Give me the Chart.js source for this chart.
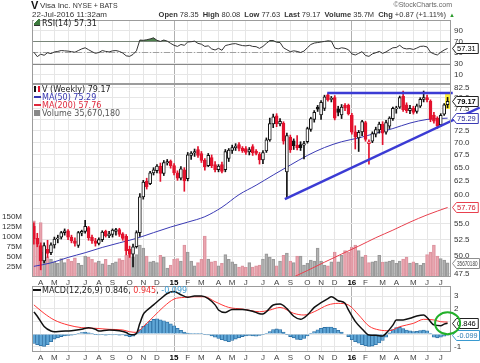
<!DOCTYPE html>
<html><head><meta charset="utf-8">
<script src="https://cdn.jsdelivr.net/npm/chart.js@4.4.1/dist/chart.umd.min.js"></script>
<style>
html,body{margin:0;padding:0;background:#fff;}
#wrap{position:relative;width:480px;height:363px;overflow:hidden;font-family:"Liberation Sans",Arial,sans-serif;background:#fff;}
canvas{position:absolute;left:0;top:0;}
.t{position:absolute;white-space:nowrap;line-height:1;color:#222;}
.t b{margin-left:2px;}
.lg{position:absolute;white-space:nowrap;line-height:1;font-family:"DejaVu Sans",Verdana,sans-serif;font-size:8px;color:#222;}
.dash{display:inline-block;width:7px;height:2px;vertical-align:middle;margin-right:1px;position:relative;top:-1px;}
.ico{display:inline-block;width:6px;height:6px;vertical-align:middle;margin-right:2px;position:relative;top:-1px;}
</style></head><body>
<div id="wrap">
<canvas id="cMain" width="480" height="363"></canvas>
<canvas id="cRsi" width="480" height="363"></canvas>
<canvas id="cMacd" width="480" height="363"></canvas>

<div class="t" style="left:31px;top:0px;font-weight:bold;font-size:11px;color:#111">V</div>
<div class="t" style="left:40px;top:2px;font-size:8px;color:#333">Visa Inc. <span style="font-size:7px">NYSE + BATS</span></div>
<div class="t" style="right:28px;top:1px;font-size:7px;color:#666">&copy;StockCharts.com</div>
<div class="t" style="left:32px;top:11px;font-size:8px;color:#333">22-Jul-2016 11:32am</div>
<div class="t" style="right:34px;top:11px;font-size:7.5px;color:#333"><b>Open</b> 78.35 <b>High</b> 80.08 <b>Low</b> 77.63 <b>Last</b> 79.17 <b>Volume</b> 35.7M <b>Chg</b> +0.87 (+1.11%)</div>
<div class="t" style="left:449px;top:12px;font-size:6px;color:#2a9a2a">&#9650;</div>

<div class="lg" style="left:34px;top:20px"><span class="ico" style="background:linear-gradient(135deg,#fff 40%,#3d7a3d 41%);border-bottom:1px solid #333"></span>RSI(14) 57.31</div>

<div class="lg" style="left:34px;top:86px"><span class="ico" style="border-left:2px solid #111;border-right:2px solid #e3122d;width:2px;height:6px"></span>V (Weekly) 79.17</div>
<div class="lg" style="left:34px;top:94px;color:#3535b0"><span class="dash" style="background:#3535b0"></span>MA(50) 75.29</div>
<div class="lg" style="left:34px;top:102px;color:#e0283c"><span class="dash" style="background:#e0283c"></span>MA(200) 57.76</div>
<div class="lg" style="left:34px;top:110px;color:#555"><span class="ico" style="border-bottom:6px solid #888;height:0;width:6px"></span>Volume 35,670,180</div>

<div class="lg" style="left:33px;top:287px"><span class="dash" style="background:#111;width:8px"></span>MACD(12,26,9) 0.846, <span style="color:#f03030">0.945</span>, <span style="color:#3a9ad0">-0.099</span></div>
</div>

<script>
// ---------------- data ----------------
const monthTickWeek  = [2,6,10,15,19,23,28,32,36,41,45,49,54,58,62,67,71,75,80,84,88,93,97,102,106,111,115,119];
const monthTickLabel = ['A','M','J','J','A','S','O','N','D','15','F','M','A','M','J','J','A','S','O','N','D','16','F','M','A','M','J','J'];

const opens = [
54.6,52.7,51.6,49.3,51.0,50.5,51.7,52.6,52.9,53.6,
53.9,52.9,52.3,51.6,53.5,53.8,54.4,52.9,52.3,51.9,
52.5,53.8,53.1,53.3,53.8,54.1,53.4,53.0,51.0,50.3,
51.4,53.6,59.6,62.4,62.0,64.0,64.4,65.3,63.9,65.9,
66.3,65.4,64.0,63.0,64.6,62.9,67.4,67.9,68.6,67.8,
66.5,65.4,67.0,65.6,64.6,65.6,64.6,66.8,68.4,69.0,
69.6,68.9,68.8,68.1,69.2,68.3,67.6,66.5,68.3,70.6,
74.0,75.8,74.0,74.2,64.2,71.2,70.4,69.5,69.6,69.5,
70.2,72.8,75.0,77.8,76.0,77.5,80.7,79.6,80.0,77.4,
76.0,78.2,78.2,76.0,72.3,71.0,72.3,74.3,69.8,70.3,
71.8,72.7,74.0,72.2,73.5,75.2,77.4,77.8,80.4,78.3,
77.0,77.6,76.8,78.0,79.6,80.0,79.2,76.0,75.3,73.8,
76.2,78.35];
const highs = [
55.2,53.5,52.0,52.0,52.4,52.0,52.9,53.2,53.8,54.2,
54.1,53.2,52.8,53.8,54.0,55.6,54.6,53.2,52.7,52.8,
53.9,54.0,53.8,54.2,54.3,54.3,53.6,53.3,51.5,51.8,
53.9,60.2,62.6,63.0,64.3,65.0,65.6,65.9,66.4,66.6,
66.5,65.8,64.4,65.2,65.0,68.0,68.2,68.7,69.2,68.2,
66.8,67.8,67.5,66.2,65.6,66.1,68.6,68.8,69.5,69.8,
70.0,69.2,69.2,69.0,69.6,68.6,68.0,68.4,71.0,75.3,
76.2,76.3,75.2,74.5,72.0,71.6,70.8,71.5,70.2,70.3,
73.3,75.5,77.0,78.2,79.3,80.6,81.0,80.3,80.5,78.0,
78.4,78.6,78.5,76.4,73.6,72.6,74.8,74.6,70.6,72.3,
73.3,74.4,74.5,74.8,75.6,77.8,78.0,80.4,81.6,78.8,
78.2,78.0,78.5,80.0,81.6,80.6,79.5,76.6,75.6,76.3,
78.6,80.08];
const lows = [
51.8,51.4,48.0,49.0,49.8,50.2,51.2,52.0,52.6,53.2,
52.5,52.0,51.5,51.3,53.1,53.5,52.4,51.9,51.5,51.7,
52.2,52.9,52.8,52.9,53.2,53.0,52.4,50.2,49.8,48.4,
51.2,53.0,59.2,61.0,61.8,63.6,64.0,62.4,63.5,65.5,
64.9,63.6,62.6,62.7,60.6,62.5,66.6,67.2,67.0,66.0,
64.5,65.2,65.0,64.2,64.2,64.0,64.2,66.2,67.8,68.4,
68.3,68.0,67.6,67.5,67.4,67.5,65.7,65.8,68.0,70.3,
73.2,73.4,73.6,69.7,59.3,68.0,68.6,68.5,68.4,66.7,
69.9,72.4,74.4,76.8,75.0,77.0,79.2,79.0,74.9,75.8,
75.2,77.0,76.0,71.8,68.7,68.2,71.5,70.3,65.7,70.0,
71.2,72.0,69.6,71.8,73.0,74.8,76.4,77.5,76.8,76.5,
76.3,76.2,76.4,77.7,79.0,79.0,74.5,74.2,73.0,73.5,
75.9,77.63];
const closes = [
52.6,51.8,49.3,51.6,50.4,51.7,52.6,52.8,53.6,53.9,
52.9,52.3,51.9,53.6,53.8,54.6,52.8,52.3,51.9,52.5,
53.7,53.1,53.4,54.0,54.1,53.3,52.7,50.8,50.3,51.4,
53.6,59.6,62.3,61.4,64.0,64.6,65.3,63.9,66.0,66.2,
65.4,64.0,63.0,64.8,62.5,67.5,67.9,68.2,67.4,66.4,
65.2,67.4,65.4,64.6,65.3,64.3,68.2,68.5,69.0,69.3,
68.8,68.3,68.0,68.6,67.9,67.8,66.5,68.0,70.6,74.1,
75.6,74.0,74.6,70.3,71.5,68.5,69.4,69.0,69.0,69.8,
73.0,75.2,76.6,77.3,78.9,80.2,79.5,79.8,75.3,76.6,
77.8,77.6,76.3,72.2,71.2,72.2,74.5,70.7,70.2,71.9,
72.8,74.0,72.0,74.3,75.3,77.5,77.6,80.0,77.2,77.0,
77.5,76.6,78.1,79.6,80.0,79.5,75.0,74.6,73.6,75.9,
78.3,79.17];
const volumeM = [
140,82,136,62,50,45,38,34,46,36,
44,40,48,34,30,52,50,44,36,40,
33,44,30,34,38,46,42,55,58,50,
56,80,72,52,38,40,36,54,50,22,
30,44,46,40,80,62,40,28,36,44,
102,45,38,40,28,34,56,44,38,32,
25,28,24,36,25,28,30,45,58,50,
44,28,40,54,60,40,36,52,52,30,
34,42,40,72,40,30,28,38,62,38,
54,66,62,75,80,66,50,54,36,38,
40,54,37,38,40,42,34,40,45,50,
35,38,34,30,34,56,62,80,52,46,
42,35.67018];
const lastVolumeText = '35670180';

const ma50Week  = [0,5,10,15,20,25,30,35,40,45,50,55,60,65,70,75,80,85,90,95,100,105,110,115,121];
const ma50Value = [48.5,49.0,49.8,50.5,51.3,52.0,52.7,53.6,54.5,55.3,56.2,57.8,60.0,61.7,63.6,65.5,67.4,69.0,70.2,71.0,72.0,73.0,74.2,75.0,75.29];
const ma200Week  = [76,80,85,90,95,100,105,110,115,121];
const ma200Value = [47.0,47.9,49.1,50.3,51.5,52.8,54.0,55.3,56.5,57.76];

const resistanceWeek  = [85.8,122.5];
const resistanceValue = [81.1,81.1];
const supportWeek  = [73.4,130.4];
const supportValue = [59.2,77.7];

const rsiValues = [
50.5,42.5,47,45,49.5,48,51,52,53.5,53,
52.5,51.5,50.5,53.5,56.5,58.5,55,51.5,48.5,50,
53.5,52,51,53,53.5,52,49,44,43,46.5,
53,72.5,72,73,74.5,76.5,72,70,72.5,70.5,
66.5,63,61,64.5,63,69,69.5,70.5,66.5,65,
61,62,56.5,54.5,57.5,54,62.5,64,65.5,66,
64,62.5,62,63,61,60.5,57.5,61,66.5,71.5,
71.5,68.5,68,58.5,55,51.5,53,52,50,52.5,
58.5,64.5,67,68,69,70,71,70.5,58,56.5,
58.5,57.5,55,47.5,45.5,48.5,51.5,44.5,43,47.5,
49.5,52,48.5,51,55,58.5,59,63,58,56.5,
57,55.5,58,61,61.5,60,50.5,47.5,45.5,50.5,
54.5,57.31];

const macdWeek  = [0,1,3,5,6,8,11,14,16,18,19,22,25,27,28,29,30,31,32,33,35,37,39,41,43,45,47,49,51,53,54,56,58,61,64,66,67,68,70,72,74,76,78,80,82,84,86,87,89,91,92,94,96,98,100,102,103,105,106,108,110,112,114,115,117,119,120,121];
const macdValue = [1.75,1.4,0.6,0.24,0.18,0.22,0.26,0.37,0.5,0.38,0.24,0.32,0.26,0.12,-0.03,-0.05,0.05,0.84,1.55,1.85,2.3,2.76,3.2,3.35,3.1,2.9,3.0,3.0,2.8,2.3,1.9,1.7,1.94,1.94,1.8,1.6,1.58,1.76,2.29,2.37,2.0,1.4,1.16,1.5,2.1,2.47,2.8,2.95,2.63,2.42,1.9,1.0,0.4,-0.08,-0.1,-0.16,0.05,0.7,1.1,1.11,1.24,1.42,1.5,1.3,0.72,0.66,0.78,0.846];
const signalWeek  = [0,3,6,10,14,18,22,26,28,30,32,35,38,41,44,47,50,53,57,61,66,69,72,76,79,82,86,89,92,95,98,101,104,107,111,114,117,119,121];
const signalValue = [2.3,1.63,1.1,0.71,0.5,0.45,0.37,0.32,0.18,0.13,0.58,1.37,2.16,2.76,2.89,2.94,2.94,2.55,2.1,1.97,1.76,1.89,2.1,1.63,1.5,1.76,2.29,2.42,2.29,1.5,0.63,0.32,0.26,0.58,0.84,1.16,1.11,0.97,0.945];
const histValues = [
-0.75,-0.85,-0.93,-0.97,-0.85,-0.6,-0.4,-0.3,-0.2,-0.15,
-0.12,-0.1,-0.05,0.05,0.12,0.15,0.1,0.03,-0.03,-0.08,
-0.06,-0.1,-0.05,-0.08,-0.06,-0.1,-0.08,-0.15,-0.2,-0.18,
0.1,0.35,0.6,0.8,1.0,1.15,1.2,1.12,1.05,0.95,
0.8,0.65,0.45,0.3,0.15,0.08,0.05,0.03,0.02,0.03,
-0.05,-0.08,-0.15,-0.25,-0.35,-0.45,-0.55,-0.6,-0.5,-0.4,
-0.3,-0.2,-0.15,-0.12,-0.15,-0.18,-0.12,-0.05,0.05,0.2,
0.35,0.4,0.35,0.15,-0.05,-0.2,-0.3,-0.42,-0.45,-0.35,
-0.15,0.02,0.2,0.33,0.45,0.52,0.55,0.55,0.45,0.3,
0.15,0,-0.2,-0.45,-0.6,-0.72,-0.85,-0.92,-0.97,-0.95,
-0.85,-0.7,-0.5,-0.25,0.1,0.35,0.5,0.52,0.42,0.32,
0.25,0.2,0.22,0.28,0.32,0.25,0.05,-0.25,-0.3,-0.25,
-0.18,-0.099];

const priceTicks  = [47.5,50,52.5,55,57.5,60,62.5,65,67.5,70,72.5,75,77.5,80,82.5];
const volumeTicks = [25,50,75,100,125,150];
const rsiTicks    = [10,30,50,70,90];
const macdTicks   = [-1,0,1,2,3];

// ---------------- chart setup ----------------
Chart.defaults.font.family = "'Liberation Sans', Arial, sans-serif";
Chart.defaults.font.size = 8;
Chart.defaults.color = '#333';
Chart.defaults.animation = false;
Chart.defaults.responsive = false;
Chart.defaults.plugins.legend.display = false;
Chart.defaults.plugins.tooltip.enabled = false;

const X_MIN = -0.55, X_MAX = 122;
const GRID = '#e6e6e6';
const isYear = v => { const k = monthTickWeek.indexOf(v); return k >= 0 && monthTickLabel[k].length === 2; };

function xAxis(showLabels, h) {
  return {
    type: 'linear', min: X_MIN, max: X_MAX, offset: false,
    grid: { offset: false, drawTicks: false, color: c => (c.tick && isYear(c.tick.value)) ? '#b0b0b0' : GRID },
    border: { display: false },
    ticks: {
      display: showLabels, autoSkip: false, maxRotation: 0, minRotation: 0, padding: 1,
      callback: v => { const k = monthTickWeek.indexOf(v); return k < 0 ? '' : monthTickLabel[k]; },
      font: c => ({ size: 8, weight: (c.tick && isYear(c.tick.value)) ? 'bold' : 'normal' }),
      color: c => (c.tick && isYear(c.tick.value)) ? '#000' : '#444'
    },
    afterBuildTicks: s => { s.ticks = monthTickWeek.map(v => ({ value: v })); },
    afterFit: s => { s.height = h; }
  };
}
function rightAxis(min, max, ticks, fmt, extra) {
  return Object.assign({
    position: 'right', min, max,
    grid: { drawTicks: false, color: GRID },
    border: { display: false },
    ticks: { padding: 3, font: { size: 8 }, color: '#333', callback: fmt },
    afterBuildTicks: s => { s.ticks = ticks.map(v => ({ value: v })); },
    afterFit: s => { s.width = 29; }
  }, extra || {});
}

const decor = {
  id: 'decor',
  beforeDatasetsDraw(chart, args, o) {
    const ctx = chart.ctx, a = chart.chartArea;
    ctx.save();
    (o.hlines || []).forEach(h => {
      const y = Math.round(chart.scales[h.axis].getPixelForValue(h.value)) + 0.5;
      ctx.strokeStyle = h.color; ctx.lineWidth = 1; ctx.setLineDash(h.dash || []);
      ctx.beginPath(); ctx.moveTo(a.left, y); ctx.lineTo(a.right, y); ctx.stroke();
    });
    ctx.setLineDash([]);
    if (o.highlight) {
      const h = o.highlight, xs = chart.scales.x, ys = chart.scales[h.axis];
      const x = xs.getPixelForValue(h.x);
      const y1 = ys.getPixelForValue(h.top), y2 = ys.getPixelForValue(h.bottom);
      ctx.fillStyle = h.color; ctx.fillRect(x - 2.5, y1 - 4, 5, y2 - y1 + 5);
    }
    ctx.restore();
  },
  afterDraw(chart, args, o) {
    const ctx = chart.ctx, a = chart.chartArea;
    ctx.save();
    ctx.strokeStyle = '#9c9c9c'; ctx.lineWidth = 1;
    ctx.strokeRect(a.left + 0.5, a.top + 0.5, a.right - a.left - 1, a.bottom - a.top - 1);
    (o.boxes || []).forEach(b => {
      const y = Math.round(chart.scales[b.axis].getPixelForValue(b.value)) + 0.5;
      ctx.font = (b.bold ? 'bold ' : '') + "7.5px 'Liberation Sans', Arial";
      const L = a.right + 1.5;
      const avail = 479 - (L + 5) - 1;
      const w = Math.min(ctx.measureText(b.text).width, avail);
      const R = Math.min(L + w + 7, 479.5);
      ctx.beginPath();
      ctx.moveTo(L, y); ctx.lineTo(L + 4, y - 5); ctx.lineTo(R, y - 5);
      ctx.lineTo(R, y + 5); ctx.lineTo(L + 4, y + 5); ctx.closePath();
      ctx.fillStyle = '#fff'; ctx.fill();
      ctx.strokeStyle = b.border; ctx.lineWidth = 1; ctx.stroke();
      ctx.fillStyle = b.color; ctx.textBaseline = 'middle'; ctx.textAlign = 'left';
      ctx.fillText(b.text, L + 4.5, y + 0.5, avail);
    });
    if (o.ellipse) {
      const e = o.ellipse;
      const cx = chart.scales.x.getPixelForValue(e.x), cy = chart.scales[e.axis].getPixelForValue(e.y);
      ctx.strokeStyle = e.color; ctx.lineWidth = 2;
      ctx.beginPath(); ctx.ellipse(cx, cy, e.rx, e.ry, 0, 0, Math.PI * 2); ctx.stroke();
    }
    ctx.restore();
  }
};

const idx = closes.map((_, i) => i);
const RED = '#e3122d', BLK = '#111';
const strokeCol = idx.map(i => (i === 0 ? closes[i] >= opens[i] : closes[i] >= closes[i - 1]) ? BLK : RED);
const bodyFill = idx.map(i => closes[i] < opens[i] ? strokeCol[i] : '#fff');
const volFill = idx.map(i => strokeCol[i] === RED ? 'rgba(236,160,170,0.72)' : 'rgba(175,175,175,0.72)');
const volBorder = idx.map(i => strokeCol[i] === RED ? '#dc95a0' : '#999');
const last = closes.length - 1;

// ---------------- main price panel ----------------
new Chart(document.getElementById('cMain'), {
  type: 'bar',
  data: { datasets: [
    { type: 'bar', data: idx.map(i => ({ x: i, y: volumeM[i] })), yAxisID: 'vol',
      backgroundColor: volFill, borderColor: volBorder, borderWidth: 1, barThickness: 3, grouped: false, order: 10 },
    { type: 'line', data: ma200Week.map((w, k) => ({ x: w, y: ma200Value[k] })), yAxisID: 'price',
      borderColor: '#e8404e', borderWidth: 1, pointRadius: 0, cubicInterpolationMode: 'monotone', order: 6 },
    { type: 'line', data: ma50Week.map((w, k) => ({ x: w, y: ma50Value[k] })), yAxisID: 'price',
      borderColor: '#3a3ab4', borderWidth: 1, pointRadius: 0, cubicInterpolationMode: 'monotone', order: 5 },
    { type: 'bar', data: idx.map(i => ({ x: i, y: [lows[i], highs[i]] })), yAxisID: 'price',
      backgroundColor: strokeCol, barThickness: 1, grouped: false, order: 3 },
    { type: 'bar', data: idx.map(i => ({ x: i, y: [opens[i], closes[i]] })), yAxisID: 'price',
      backgroundColor: bodyFill, borderColor: strokeCol, borderWidth: 1, borderSkipped: false,
      barThickness: 3, minBarLength: 1, grouped: false, order: 2 },
    { type: 'line', data: resistanceWeek.map((w, k) => ({ x: w, y: resistanceValue[k] })), yAxisID: 'price',
      borderColor: '#3b3bd4', borderWidth: 2.5, pointRadius: 0, clip: false, order: 0 },
    { type: 'line', data: supportWeek.map((w, k) => ({ x: w, y: supportValue[k] })), yAxisID: 'price',
      borderColor: '#3b3bd4', borderWidth: 2.5, pointRadius: 0, clip: false, order: 0 }
  ]},
  options: {
    layout: { padding: { left: 0, right: 0, top: 84, bottom: 75 } },
    scales: {
      x: xAxis(true, 11),
      price: rightAxis(46.99, 83.32, priceTicks, v => Number(v).toFixed(1), { type: 'logarithmic' }),
      vol: { position: 'left', min: 0, max: 482, grid: { display: false }, border: { display: false },
        ticks: { padding: 2, font: { size: 8 }, color: '#333', callback: v => v + 'M' },
        afterBuildTicks: s => { s.ticks = volumeTicks.map(v => ({ value: v })); },
        afterFit: s => { s.width = 32; } }
    },
    plugins: { decor: {
      highlight: { axis: 'price', x: last, top: highs[last], bottom: lows[last], color: '#ffee33' },
      boxes: [
        { axis: 'price', value: closes[last], text: closes[last].toFixed(2), border: '#222', color: '#000', bold: true },
        { axis: 'price', value: ma50Value[ma50Value.length - 1], text: ma50Value[ma50Value.length - 1].toFixed(2), border: '#3a3ab4', color: '#2a2a90' },
        { axis: 'price', value: ma200Value[ma200Value.length - 1], text: ma200Value[ma200Value.length - 1].toFixed(2), border: '#e8404e', color: '#d02030' },
        { axis: 'vol', value: volumeM[last], text: lastVolumeText, border: '#8e8e8e', color: '#444' }
      ] } }
  },
  plugins: [decor]
});

// ---------------- RSI panel ----------------
new Chart(document.getElementById('cRsi'), {
  type: 'line',
  data: { datasets: [
    { data: idx.map(i => ({ x: i, y: rsiValues[i] })), borderColor: '#333', borderWidth: 1, pointRadius: 0,
      fill: { target: { value: 70 }, above: '#4d804d', below: 'rgba(0,0,0,0)' } }
  ]},
  options: {
    layout: { padding: { left: 32, right: 0, top: 20, bottom: 279 } },
    scales: { x: xAxis(false, 0), y: rightAxis(-6.9, 108.7, rsiTicks, v => String(v)) },
    plugins: { decor: {
      hlines: [ { axis: 'y', value: 70, color: '#888' }, { axis: 'y', value: 30, color: '#888' },
                { axis: 'y', value: 50, color: '#a0a0a0', dash: [6, 2, 1, 2] } ],
      boxes: [ { axis: 'y', value: rsiValues[last], text: rsiValues[last].toFixed(2), border: '#222', color: '#000' } ] } }
  },
  plugins: [decor]
});

// ---------------- MACD panel ----------------
new Chart(document.getElementById('cMacd'), {
  type: 'bar',
  data: { datasets: [
    { type: 'line', data: signalWeek.map((w, k) => ({ x: w, y: signalValue[k] })), borderColor: '#ff3535', borderWidth: 1,
      pointRadius: 0, cubicInterpolationMode: 'monotone', order: 1 },
    { type: 'line', data: macdWeek.map((w, k) => ({ x: w, y: macdValue[k] })), borderColor: '#111', borderWidth: 1.5,
      pointRadius: 0, cubicInterpolationMode: 'monotone', order: 0 },
    { type: 'bar', data: idx.map(i => ({ x: i, y: histValues[i] })), backgroundColor: '#5fa6d6', borderColor: '#2d6fa3',
      borderWidth: 0.8, barThickness: 3.4, grouped: false, order: 5 }
  ]},
  options: {
    layout: { padding: { left: 32, right: 0, top: 286, bottom: 0 } },
    scales: { x: xAxis(true, 11), y: rightAxis(-1.42, 3.79, macdTicks, v => String(v)) },
    plugins: { decor: {
      boxes: [
        { axis: 'y', value: macdValue[macdValue.length - 1], text: macdValue[macdValue.length - 1].toFixed(3), border: '#222', color: '#000' },
        { axis: 'y', value: histValues[last], text: histValues[last].toFixed(3), border: '#3a9ad0', color: '#2a7ab0' }
      ],
      ellipse: { axis: 'y', x: last, y: macdValue[macdValue.length - 1], rx: 12.5, ry: 11, color: '#22b02a' } } }
  },
  plugins: [decor]
});
</script>
</body></html>
